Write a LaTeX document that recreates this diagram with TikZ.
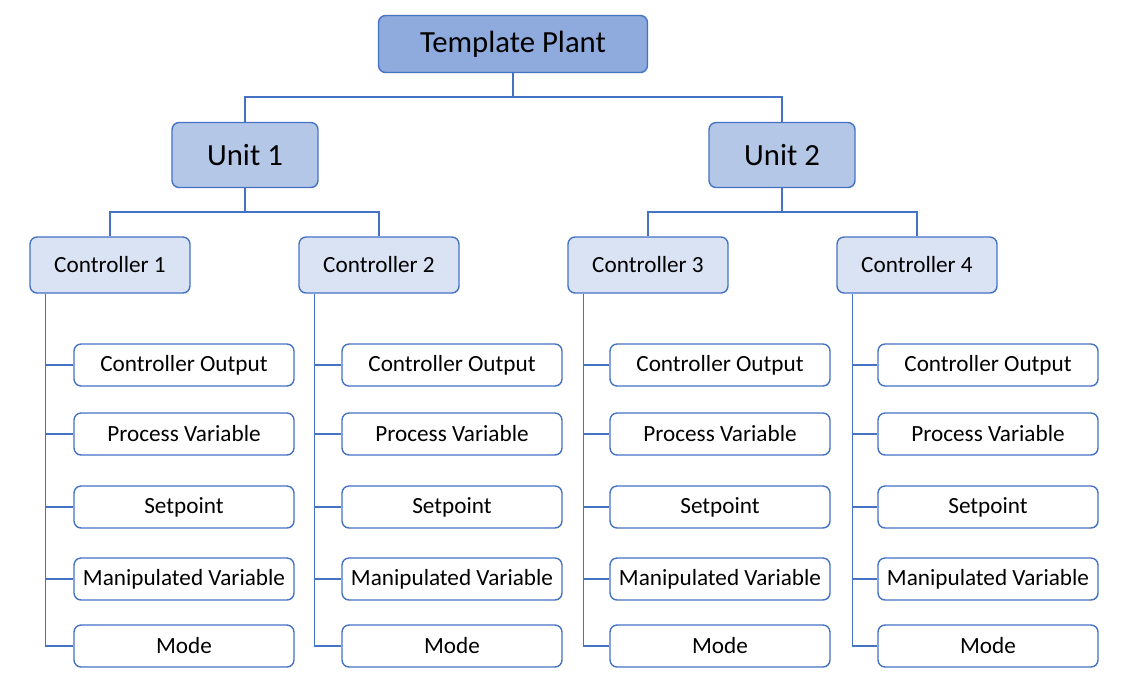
\documentclass[tikz,border=0pt]{standalone}
\usepackage{fontspec}
\setmainfont{Carlito}
\usetikzlibrary{positioning,calc}

\definecolor{plantfill}{HTML}{8FAADC}
\definecolor{unitfill}{HTML}{B4C7E7}
\definecolor{ctrlfill}{HTML}{DAE3F3}
\definecolor{edgeblue}{HTML}{4472C4}

\tikzset{
    box/.style={draw=edgeblue, line width=0.8pt, rounded corners=4pt, align=center, inner sep=0pt},
    plant/.style={box, fill=plantfill, minimum width=5.38cm, minimum height=1.14cm, font=\fontsize{17.5}{20}\selectfont},
    unit/.style={box, fill=unitfill, minimum width=2.92cm, minimum height=1.30cm, font=\fontsize{17.5}{20}\selectfont},
    ctrl/.style={box, fill=ctrlfill, minimum width=3.2cm, minimum height=1.12cm, font=\fontsize{13.2}{15}\selectfont},
    leaf/.style={box, fill=white, minimum width=4.4cm, minimum height=0.84cm, font=\fontsize{13.2}{15}\selectfont},
    wire/.style={draw=edgeblue, line width=0.8pt},
}

\begin{document}
\begin{tikzpicture}[x=0.02cm, y=-0.02cm]
    \useasboundingbox (0,0) rectangle (1138,691);

    \node[plant] (plant) at (513,44) {Template Plant};
    \node[unit] (u1) at (245,155) {Unit 1};
    \node[unit] (u2) at (782,155) {Unit 2};

    \node[ctrl] (c1) at (110,265) {Controller 1};
    \node[ctrl] (c2) at (379,265) {Controller 2};
    \node[ctrl] (c3) at (648,265) {Controller 3};
    \node[ctrl] (c4) at (917,265) {Controller 4};

    % plant to units
    \coordinate (pbus) at (513,97);
    \draw[wire] (plant.south) -- (pbus);
    \draw[wire] (u1.north) |- (pbus) -| (u2.north);

    % units to controllers
    \coordinate (bus1) at (245,212);
    \coordinate (bus2) at (782,212);
    \draw[wire] (u1.south) -- (bus1);
    \draw[wire] (c1.north) |- (bus1) -| (c2.north);
    \draw[wire] (u2.south) -- (bus2);
    \draw[wire] (c3.north) |- (bus2) -| (c4.north);

    % signals of each controller
    \foreach \c/\x in {c1/184, c2/452, c3/720, c4/988} {
        \foreach \y/\name/\txt in {365/co/Controller Output, 434/pv/Process Variable,
                                   507/sp/Setpoint, 579/mv/Manipulated Variable, 646/md/Mode} {
            \node[leaf] (\c\name) at (\x,\y) {\txt};
        }
        \coordinate (\c top) at ($(\c.south west)+(16,0)$);
        \draw[wire] (\c top) |- (\c md.west);
        \foreach \name in {co, pv, sp, mv} {
            \draw[wire] (\c top |- \c\name.west) -- (\c\name.west);
        }
    }
\end{tikzpicture}
\end{document}
